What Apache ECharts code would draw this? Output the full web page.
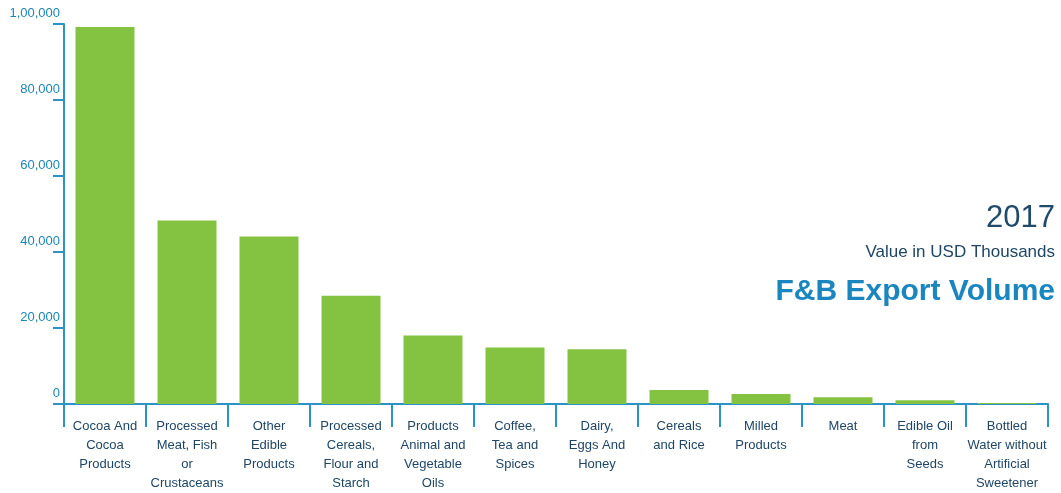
<!DOCTYPE html>
<html>
<head>
<meta charset="utf-8">
<script src="https://cdn.jsdelivr.net/npm/echarts@6/dist/echarts.min.js"></script>
<style>
  html, body { margin: 0; padding: 0; background: #fff; }
  #chart { width: 1061px; height: 493px; }
</style>
</head>
<body>
<div id="chart"></div>
<script>
// 品类（标签内换行照原图）
const categories = [
  "Cocoa And\nCocoa\nProducts",
  "Processed\nMeat, Fish\nor\nCrustaceans",
  "Other\nEdible\nProducts",
  "Processed\nCereals,\nFlour and\nStarch",
  "Products\nAnimal and\nVegetable\nOils",
  "Coffee,\nTea and\nSpices",
  "Dairy,\nEggs And\nHoney",
  "Cereals\nand Rice",
  "Milled\nProducts",
  "Meat",
  "Edible Oil\nfrom\nSeeds",
  "Bottled\nWater without\nArtificial\nSweetener",
];
// 出口额（千美元）
const exportValues = [99200, 48300, 44100, 28500, 18000, 14900, 14400, 3700, 2600, 1800, 1000, 250];
const yTicks = [0, 20000, 40000, 60000, 80000, 100000];

// 印度式千分位
function indianFormat(n) {
  const s = String(Math.round(n));
  if (s.length <= 3) return s;
  const last3 = s.slice(-3);
  const rest = s.slice(0, -3).replace(/\B(?=(\d{2})+(?!\d))/g, ",");
  return rest + "," + last3;
}

const chart = echarts.init(document.getElementById("chart"));
const font = "'Liberation Sans', Arial, sans-serif";
const axisBlue = "#2b93c6";

const option = {
  animation: false,
  grid: {
    left: 64,
    right: 13,
    top: 24,
    bottom: 86,
  },
  xAxis: {
    type: "category",
    data: categories,
    axisLine: {
      lineStyle: { color: axisBlue, width: 2 },
    },
    axisTick: {
      show: true,
      interval: 0,
      length: 23,
      lineStyle: { color: axisBlue, width: 2 },
    },
    axisLabel: {
      interval: 0,
      margin: 13,
      color: "#1e4565",
      fontSize: 13,
      lineHeight: 19,
      fontFamily: font,
    },
  },
  yAxis: {
    type: "value",
    min: 0,
    max: 100000,
    interval: 20000,
    splitLine: { show: false },
    axisLine: {
      show: true,
      lineStyle: { color: axisBlue, width: 2 },
    },
    axisTick: {
      show: true,
      length: 11,
      lineStyle: { color: axisBlue, width: 2 },
    },
    axisLabel: {
      color: "#1a86b8",
      fontSize: 13,
      fontFamily: font,
      margin: 4,
      verticalAlign: "bottom",
      padding: [0, 0, 4, 0],
      formatter: (v) => (yTicks.includes(v) ? indianFormat(v) : ""),
    },
  },
  series: [
    {
      type: "bar",
      data: exportValues,
      barWidth: 59,
      itemStyle: { color: "#84c341" },
    },
  ],
  graphic: [
    {
      type: "text",
      right: 6,
      top: 203,
      style: {
        text: "2017",
        font: "300 31px " + font,
        fill: "#1f4a6b",
      },
    },
    {
      type: "text",
      right: 6,
      top: 244,
      style: {
        text: "Value in USD Thousands",
        font: "17px " + font,
        fill: "#1e4565",
      },
    },
    {
      type: "text",
      right: 6,
      top: 277,
      style: {
        text: "F&B Export Volume",
        font: "bold 30px " + font,
        fill: "#1a86c0",
      },
    },
  ],
};
chart.setOption(option);
</script>
</body>
</html>
